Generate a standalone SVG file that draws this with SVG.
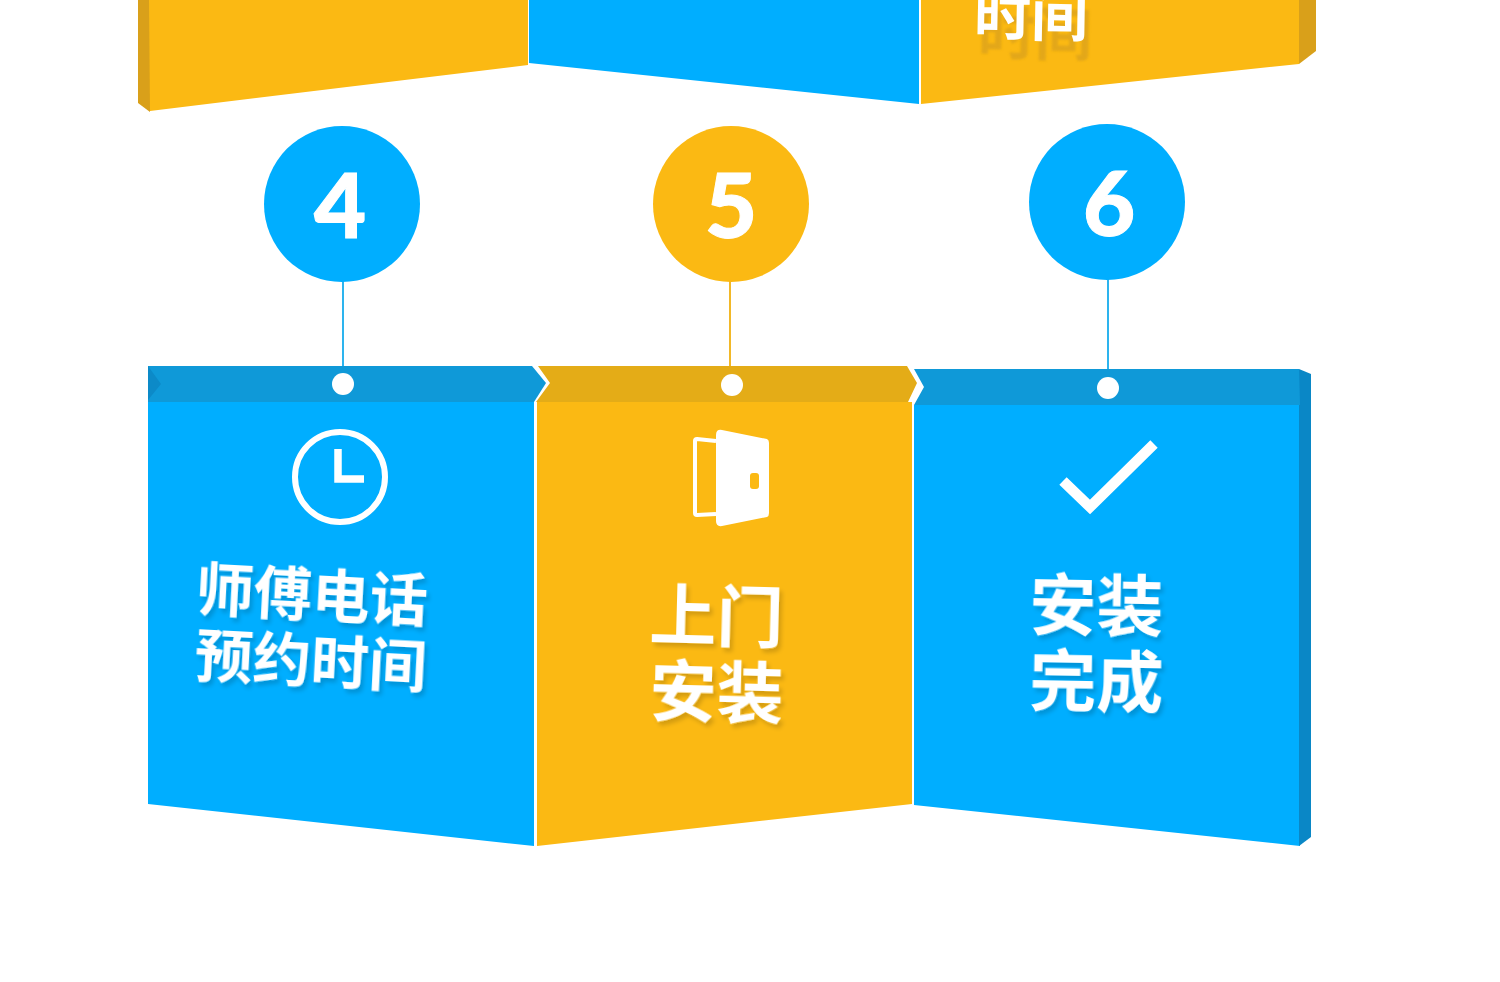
<svg xmlns="http://www.w3.org/2000/svg" width="1500" height="982" viewBox="0 0 1500 982">
<defs>
<filter id="ts" x="-10%" y="-10%" width="125%" height="125%"><feDropShadow dx="3" dy="4" stdDeviation="2" flood-color="#000" flood-opacity="0.16"/></filter>
<filter id="tb" x="-10%" y="-20%" width="125%" height="140%"><feGaussianBlur stdDeviation="1.2"/></filter>
</defs>
<style>
.blue{fill:#00aeff}.gold{fill:#fbb913}
.bband{fill:#0f99d8}.gband{fill:#e4ac17}
.bside{fill:#0a87c6}.gside{fill:#d9a01a}
.num{font-family:"Lato","Liberation Sans",sans-serif;font-weight:900;font-size:90px;fill:#fff;stroke:#fff;stroke-width:1;text-anchor:middle}
.lab{font-family:"Noto Sans CJK SC",sans-serif;font-weight:700;fill:#fff;filter:url(#ts)}
.conn{fill:none;stroke-width:2}
.icon{fill:none;stroke:#fff}
</style>
<rect width="1500" height="982" fill="#fff"/>

<g id="top-panels">
<polygon class="gside" points="138,0 150,0 150,112 138,103"/>
<polygon class="gold" points="149,0 528,0 528,65 150,111"/>
<polygon class="blue" points="529,0 919,0 919,104 529,63"/>
<polygon class="gold" points="921,0 1299,0 1299,64 921,104"/>
<polygon class="gside" points="1299,0 1316,0 1316,51 1299,64"/>
<text x="978" y="55" font-size="57" font-family="'Noto Sans CJK SC',sans-serif" font-weight="700" fill="#d9a01a" opacity=".7" filter="url(#tb)" transform="rotate(1 1030 40)">时间</text>
<text x="974" y="36" font-size="57" font-family="'Noto Sans CJK SC',sans-serif" font-weight="700" fill="#fff" transform="rotate(1 1030 20)">时间</text>
</g>

<g id="connectors">
<line class="conn" x1="343" y1="281" x2="343" y2="367" stroke="#2db4ee"/>
<line class="conn" x1="730" y1="281" x2="730" y2="367" stroke="#f2b828"/>
<line class="conn" x1="1108" y1="279" x2="1108" y2="370" stroke="#2db4ee"/>
</g>

<g id="node-4">
<circle class="blue" cx="342" cy="204" r="78"/>
<text class="num" x="340" y="238">4</text>
<polygon class="blue" points="148,402 534,402 534,846 148,804"/>
<polygon class="bband" points="148,366 532,366 546,383 534,402 148,402"/>
<polygon fill="#0c8ac8" points="148,366 161,384 148,400"/>
<circle cx="343" cy="384" r="11" fill="#fff"/>
<circle class="icon" cx="340" cy="477" r="45" stroke-width="6"/>
<path class="icon" stroke-width="7.5" d="M338,449V479H364"/>
<text class="lab" font-size="58" x="195" y="610" transform="rotate(3 195 610)">师傅电话</text>
<text class="lab" font-size="58" x="194" y="676" transform="rotate(3 194 676)">预约时间</text>
</g>

<g id="node-5">
<circle class="gold" cx="731" cy="204" r="78"/>
<text class="num" x="731" y="238">5</text>
<polygon class="gold" points="537,402 912,402 912,804 537,846"/>
<polygon class="gband" points="538,366 907,366 917,383 908,402 536,402 550,383"/>
<circle cx="732" cy="385" r="11" fill="#fff"/>
<path d="M716,441L697,439Q695,439 695,441V513Q695,515 697,515L716,514" fill="none" stroke="#fff" stroke-width="4" stroke-linejoin="round"/>
<path d="M716,435Q716,429 722,430L767,439Q769,440 769,443V513Q769,516 767,517L722,526Q716,527 716,521Z" fill="#fff"/>
<rect x="750" y="473" width="9" height="16" rx="3" fill="#fbb913"/>
<text class="lab" font-size="67" x="649" y="639" transform="rotate(1.5 649 639)">上门</text>
<text class="lab" font-size="67" x="649" y="715" transform="rotate(1.5 649 715)">安装</text>
</g>

<g id="node-6">
<circle class="blue" cx="1107" cy="202" r="78"/>
<text class="num" x="1109" y="236">6</text>
<polygon class="blue" points="914,405 1300,405 1300,846 914,805"/>
<polygon class="bside" points="1299,369 1311,374 1311,837 1299,846"/>
<polygon class="bband" points="914,369 1299,369 1300,405 914,405 924,387"/>
<circle cx="1108" cy="388" r="11" fill="#fff"/>
<polyline points="1063,481 1090,507 1154,444" fill="none" stroke="#fff" stroke-width="10.5"/>
<text class="lab" font-size="67" x="1029" y="629" transform="rotate(1 1029 629)">安装</text>
<text class="lab" font-size="67" x="1029" y="705" transform="rotate(1 1029 705)">完成</text>
</g>
</svg>
